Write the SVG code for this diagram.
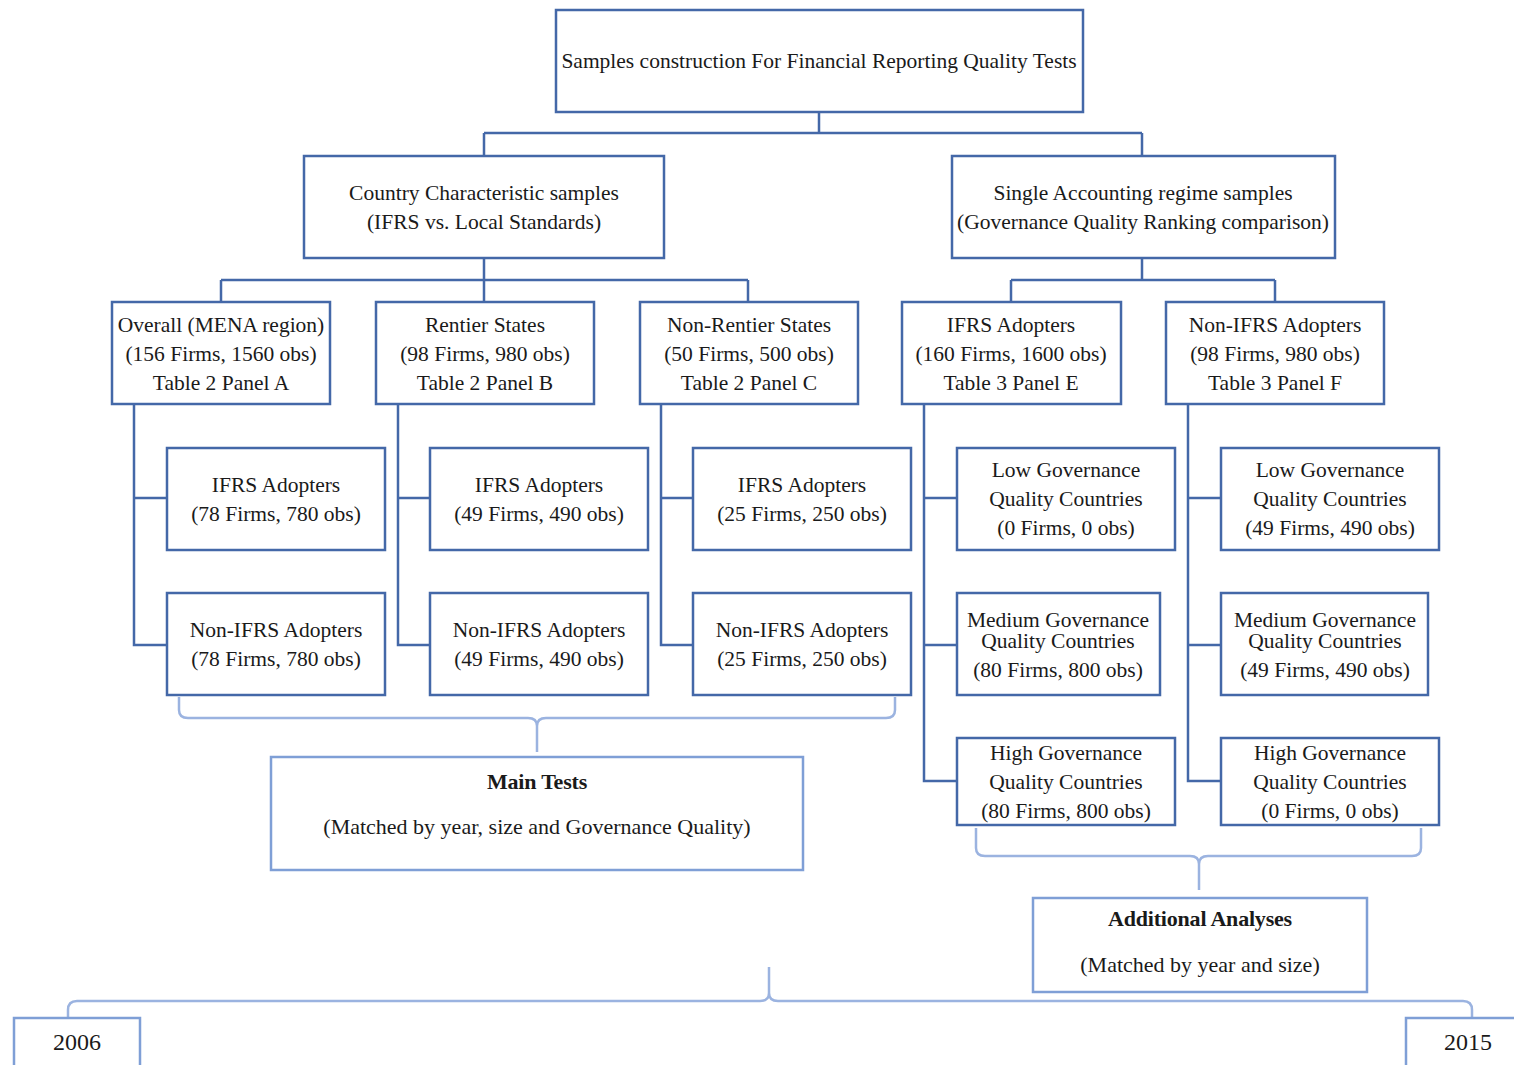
<svg xmlns="http://www.w3.org/2000/svg" width="1514" height="1065" viewBox="0 0 1514 1065">
<style>
.box{fill:#fff;stroke:#4468a8;stroke-width:2.5}
.lbox{fill:#fff;stroke:#7f9fd6;stroke-width:2.5}
.conn{fill:none;stroke:#4468a8;stroke-width:2.5}
.brace{fill:none;stroke:#9bb3e0;stroke-width:2.5}
text{font-family:"Liberation Serif","Times New Roman",serif;font-size:21.5px;fill:#1a1a1a;text-anchor:middle}
.b{font-weight:bold;font-size:22px;letter-spacing:-0.2px}
.m{font-size:22px}
.y{font-size:24px}
</style>
<rect width="1514" height="1065" fill="#fff"/>
<g id="connectors">
<path class="conn" d="M819 112V133M484 133H1142M484 133V156M1142 133V156"/>
<path class="conn" d="M484 258V280M221 280H748M221 280V302M484 280V302M748 280V302"/>
<path class="conn" d="M1142 258V280M1011 280H1275M1011 280V302M1275 280V302"/>
<path class="conn" d="M134 404V645H167M134 498H167"/>
<path class="conn" d="M398 404V645H430M398 498H430"/>
<path class="conn" d="M661 404V645H693M661 498H693"/>
<path class="conn" d="M924 404V781H957M924 498H957M924 645H957"/>
<path class="conn" d="M1188 404V781H1221M1188 498H1221M1188 645H1221"/>
<path class="brace" d="M179 697V710Q179 718 188 718H528Q537 718 537 726V752M537 726Q537 718 546 718H886Q895 718 895 710V697"/>
<path class="brace" d="M976 828V848Q976 856 985 856H1190Q1199 856 1199 864V890M1199 864Q1199 856 1208 856H1412Q1421 856 1421 848V828"/>
<path class="brace" d="M68 1018V1010Q68 1001 77 1001H760Q769 1001 769 993V967M769 993Q769 1001 778 1001H1463Q1472 1001 1472 1010V1018"/>
</g>
<g id="root"><rect class="box" x="556" y="10" width="527" height="102"/><text x="819" y="68">Samples construction For Financial Reporting Quality Tests</text></g>
<g id="country"><rect class="box" x="304" y="156" width="360" height="102"/><text x="484" y="200">Country Characteristic samples</text><text x="484" y="229">(IFRS vs. Local Standards)</text></g>
<g id="single"><rect class="box" x="952" y="156" width="383" height="102"/><text x="1143" y="200">Single Accounting regime samples</text><text x="1143" y="229">(Governance Quality Ranking  comparison)</text></g>
<g id="overall"><rect class="box" x="112" y="302" width="218" height="102"/><text x="221" y="332">Overall (MENA region)</text><text x="221" y="361">(156 Firms, 1560 obs)</text><text x="221" y="390">Table 2 Panel A</text></g>
<g id="rentier"><rect class="box" x="376" y="302" width="218" height="102"/><text x="485" y="332">Rentier States</text><text x="485" y="361">(98 Firms, 980 obs)</text><text x="485" y="390">Table 2 Panel B</text></g>
<g id="nonrentier"><rect class="box" x="640" y="302" width="218" height="102"/><text x="749" y="332">Non-Rentier States</text><text x="749" y="361">(50 Firms, 500 obs)</text><text x="749" y="390">Table 2 Panel C</text></g>
<g id="ifrs"><rect class="box" x="902" y="302" width="219" height="102"/><text x="1011" y="332">IFRS Adopters</text><text x="1011" y="361">(160 Firms, 1600 obs)</text><text x="1011" y="390">Table 3 Panel E</text></g>
<g id="nonifrs"><rect class="box" x="1166" y="302" width="218" height="102"/><text x="1275" y="332">Non-IFRS Adopters</text><text x="1275" y="361">(98 Firms, 980 obs)</text><text x="1275" y="390">Table 3 Panel F</text></g>
<g id="a1"><rect class="box" x="167" y="448" width="218" height="102"/><text x="276" y="492">IFRS Adopters</text><text x="276" y="521">(78 Firms, 780 obs)</text></g>
<g id="a2"><rect class="box" x="167" y="593" width="218" height="102"/><text x="276" y="637">Non-IFRS Adopters</text><text x="276" y="666">(78 Firms, 780 obs)</text></g>
<g id="b1"><rect class="box" x="430" y="448" width="218" height="102"/><text x="539" y="492">IFRS Adopters</text><text x="539" y="521">(49 Firms, 490 obs)</text></g>
<g id="b2"><rect class="box" x="430" y="593" width="218" height="102"/><text x="539" y="637">Non-IFRS Adopters</text><text x="539" y="666">(49 Firms, 490 obs)</text></g>
<g id="c1"><rect class="box" x="693" y="448" width="218" height="102"/><text x="802" y="492">IFRS Adopters</text><text x="802" y="521">(25 Firms, 250 obs)</text></g>
<g id="c2"><rect class="box" x="693" y="593" width="218" height="102"/><text x="802" y="637">Non-IFRS Adopters</text><text x="802" y="666">(25 Firms, 250 obs)</text></g>
<g id="d1"><rect class="box" x="957" y="448" width="218" height="102"/><text x="1066" y="477">Low Governance</text><text x="1066" y="506">Quality Countries</text><text x="1066" y="535">(0 Firms, 0 obs)</text></g>
<g id="d2"><rect class="box" x="957" y="593" width="203" height="102"/><text x="1058" y="627">Medium Governance</text><text x="1058" y="648">Quality Countries</text><text x="1058" y="677">(80 Firms, 800 obs)</text></g>
<g id="d3"><rect class="box" x="957" y="738" width="218" height="87"/><text x="1066" y="760">High Governance</text><text x="1066" y="789">Quality Countries</text><text x="1066" y="818">(80 Firms, 800 obs)</text></g>
<g id="e1"><rect class="box" x="1221" y="448" width="218" height="102"/><text x="1330" y="477">Low Governance</text><text x="1330" y="506">Quality Countries</text><text x="1330" y="535">(49 Firms, 490 obs)</text></g>
<g id="e2"><rect class="box" x="1221" y="593" width="207" height="102"/><text x="1325" y="627">Medium Governance</text><text x="1325" y="648">Quality Countries</text><text x="1325" y="677">(49 Firms, 490 obs)</text></g>
<g id="e3"><rect class="box" x="1221" y="738" width="218" height="87"/><text x="1330" y="760">High Governance</text><text x="1330" y="789">Quality Countries</text><text x="1330" y="818">(0 Firms, 0 obs)</text></g>
<g id="main"><rect class="lbox" x="271" y="757" width="532" height="113"/><text class="b" x="537" y="789">Main Tests</text><text class="m" x="537" y="834">(Matched by year, size and Governance Quality)</text></g>
<g id="additional"><rect class="lbox" x="1033" y="898" width="334" height="94"/><text class="b" x="1200" y="926">Additional Analyses</text><text class="m" x="1200" y="972">(Matched by year and size)</text></g>
<g id="y2006"><rect class="lbox" x="14" y="1018" width="126" height="60"/><text class="y" x="77" y="1050">2006</text></g>
<g id="y2015"><rect class="lbox" x="1406" y="1018" width="120" height="60"/><text class="y" x="1468" y="1050">2015</text></g>
</svg>
